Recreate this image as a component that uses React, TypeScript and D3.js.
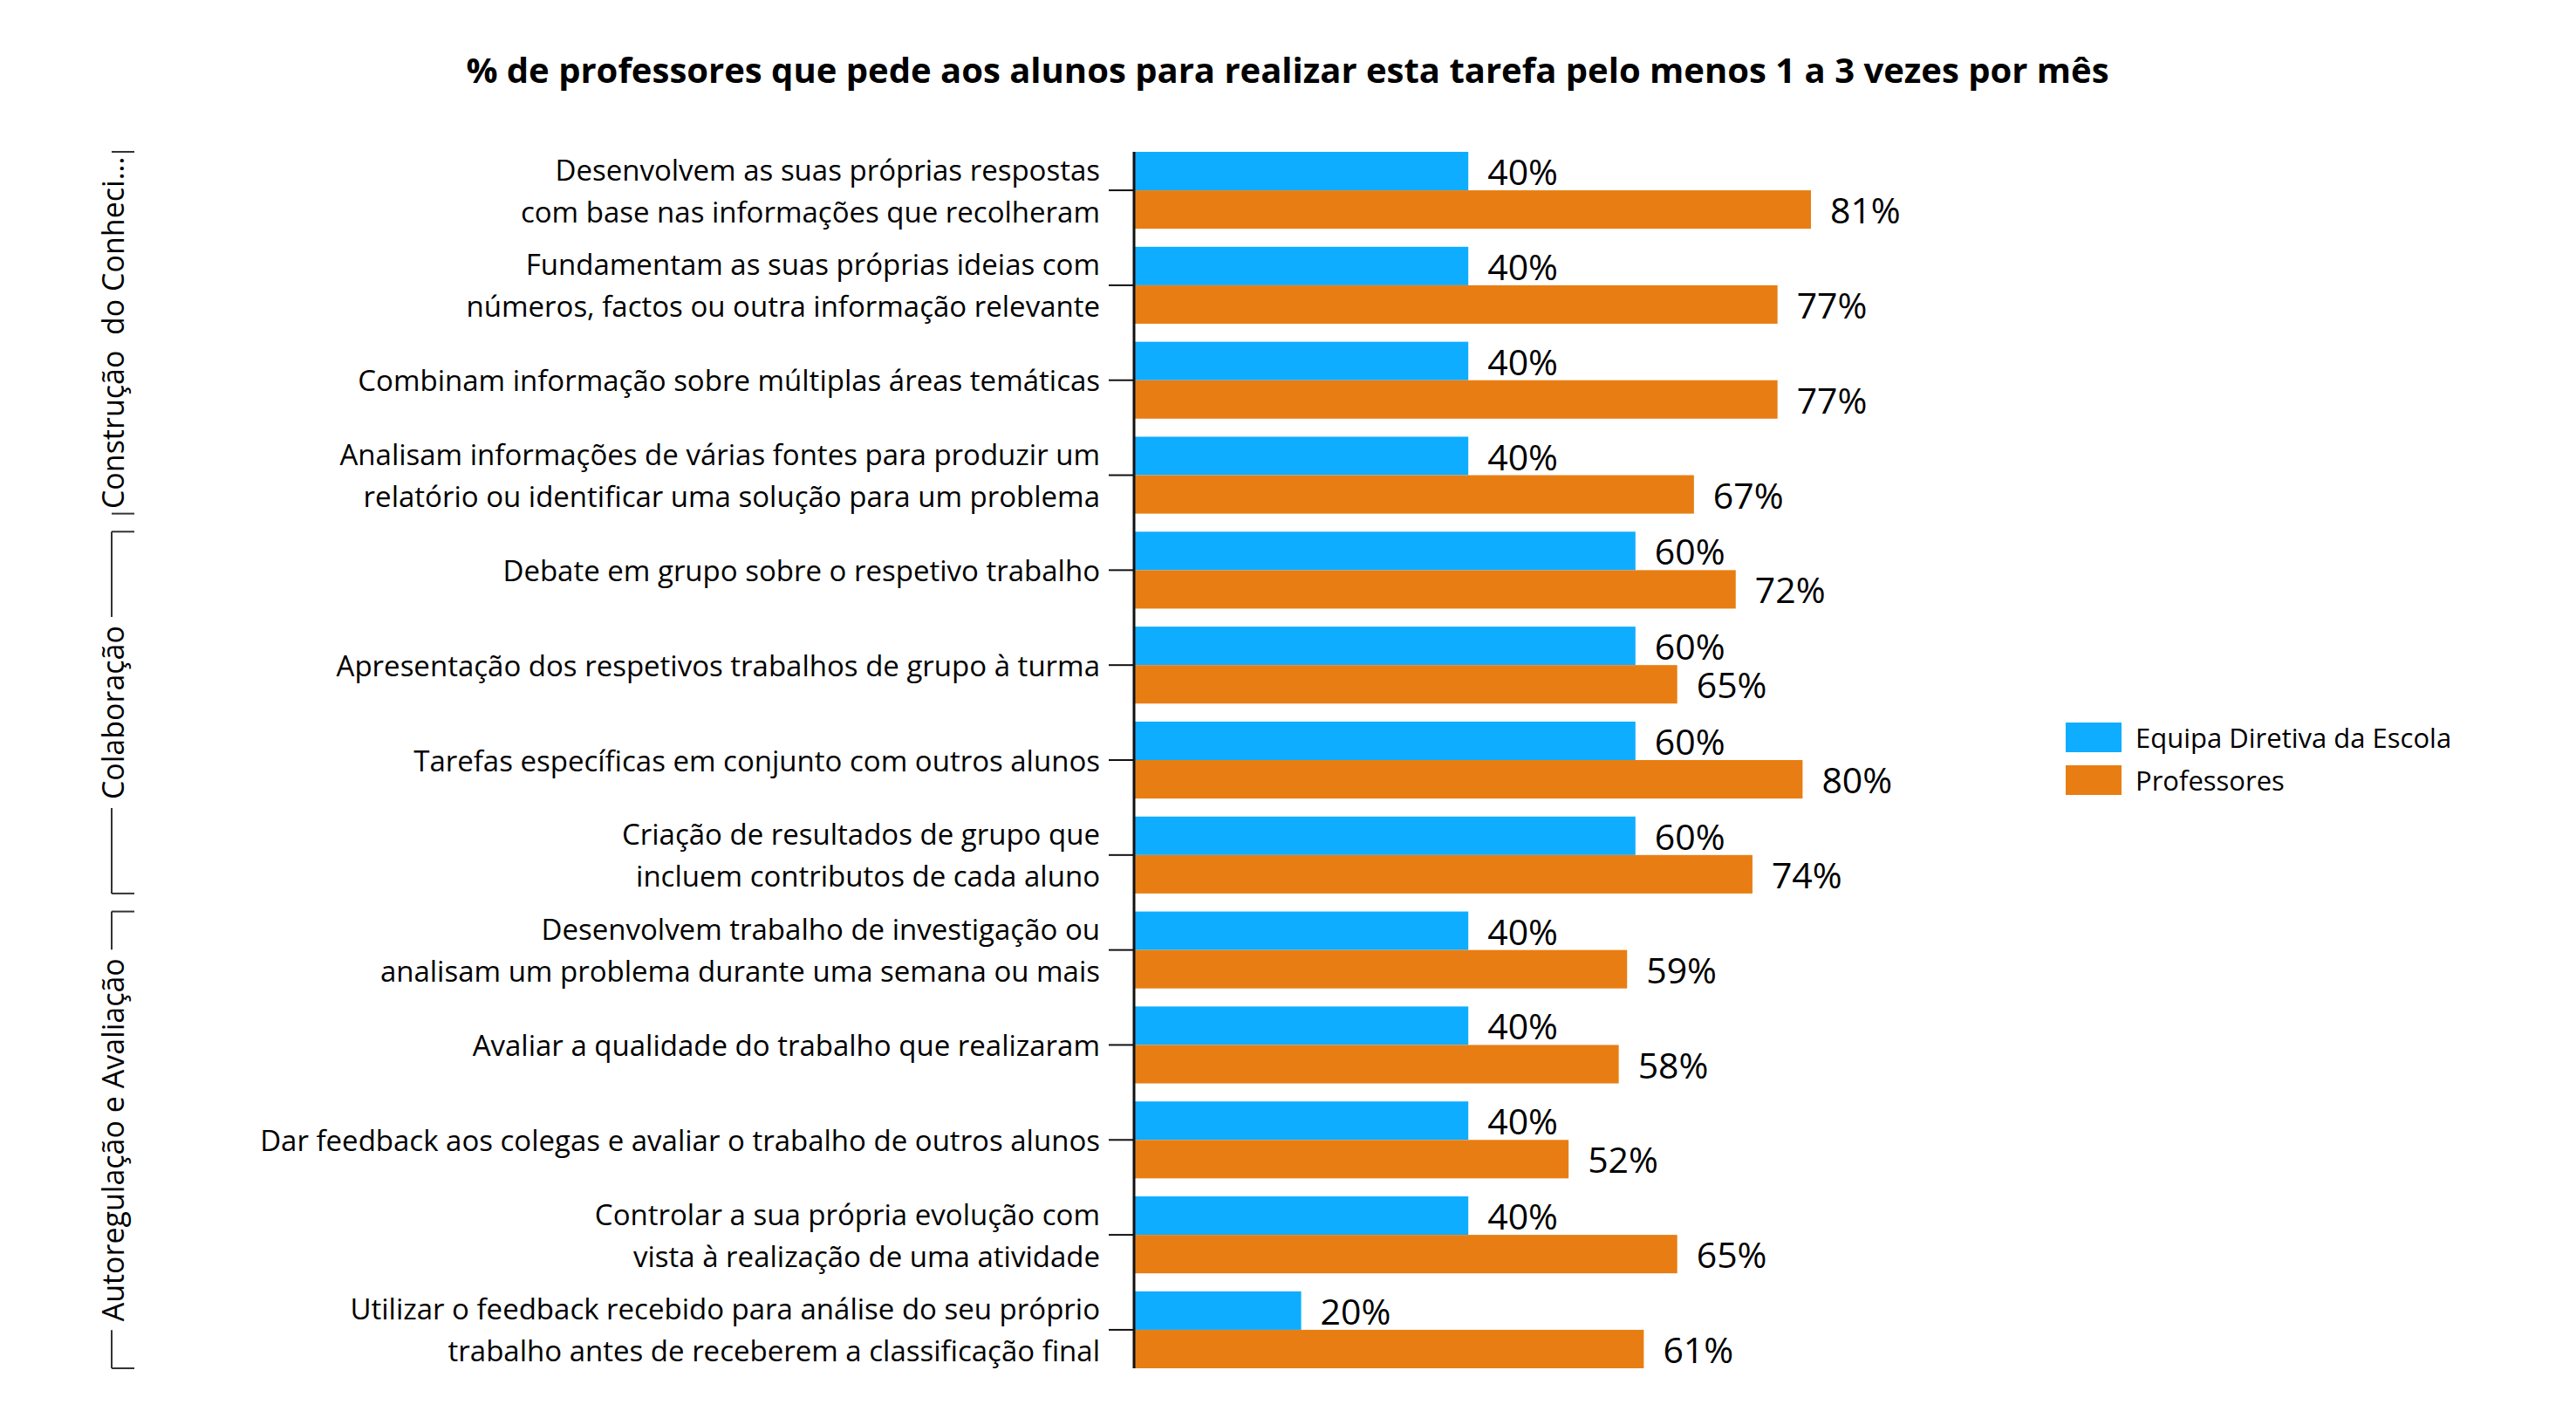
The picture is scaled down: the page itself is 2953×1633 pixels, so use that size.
import React, { useLayoutEffect, useRef, useState } from "react";
import * as d3 from "d3";

const categories: string[][] = [
  ["Desenvolvem as suas próprias respostas", "com base nas informações que recolheram"],
  ["Fundamentam as suas próprias ideias com", "números, factos ou outra informação relevante"],
  ["Combinam informação sobre múltiplas áreas temáticas"],
  ["Analisam informações de várias fontes para produzir um", "relatório ou identificar uma solução para um problema"],
  ["Debate em grupo sobre o respetivo trabalho"],
  ["Apresentação dos respetivos trabalhos de grupo à turma"],
  ["Tarefas específicas em conjunto com outros alunos"],
  ["Criação de resultados de grupo que", "incluem contributos de cada aluno"],
  ["Desenvolvem trabalho de investigação ou", "analisam um problema durante uma semana ou mais"],
  ["Avaliar a qualidade do trabalho que realizaram"],
  ["Dar feedback aos colegas e avaliar o trabalho de outros alunos"],
  ["Controlar a sua própria evolução com", "vista à realização de uma atividade"],
  ["Utilizar o feedback recebido para análise do seu próprio", "trabalho antes de receberem a classificação final"],
];

const equipaValues = [40, 40, 40, 40, 60, 60, 60, 60, 40, 40, 40, 40, 20];
const professoresValues = [81, 77, 77, 67, 72, 65, 80, 74, 59, 58, 52, 65, 61];

const seriesNames = ["Equipa Diretiva da Escola", "Professores"];
const seriesColors = ["#0FADFF", "#E87E13"];

const groupLabels = ["Construção  do Conheci...", "Colaboração", "Autoregulação e Avaliação"];
const groupStart = [0, 4, 8];
const groupEnd = [3, 7, 12];

const title = "% de professores que pede aos alunos para realizar esta tarefa pelo menos 1 a 3 vezes por mês";

const W = 2953;
const H = 1633;
const FONT = "'Open Sans', 'Noto Sans', sans-serif";

export default function App() {
  const x = d3.scaleLinear().domain([0, 100]).range([1300, 2258]);
  const idx = categories.map((_, i) => i);
  const y = d3.scaleBand<number>().domain(idx).range([174, 1568]).paddingInner(0.19).paddingOuter(0);
  const ys = d3.scaleBand<number>().domain([0, 1]).range([0, y.bandwidth()]).padding(0);
  const series = [equipaValues, professoresValues];

  const textRefs = useRef<(SVGTextElement | null)[]>([]);
  const [lens, setLens] = useState<number[]>([0, 0, 0]);
  useLayoutEffect(() => {
    setLens(textRefs.current.map((t) => (t ? t.getComputedTextLength() : 0)));
  }, []);

  const bx = 128;
  return (
    <>
      <style>{`body{margin:0}`}</style>
      <svg width={W} height={H} style={{ display: "block", background: "#fff" }} fontFamily={FONT}>
        <text x={1476} y={95} textAnchor="middle" fontSize={40} fontWeight={700} fill="#000">
          {title}
        </text>

        {idx.map((i) => {
          const y0 = y(i)!;
          return (
            <g key={i}>
              {series.map((vals, s) => {
                const yy = y0 + ys(s)!;
                return (
                  <g key={s}>
                    <rect x={x(0)} y={yy} width={x(vals[i]) - x(0)} height={ys.bandwidth()} fill={seriesColors[s]} />
                    <text
                      x={x(vals[i]) + 22}
                      y={yy + ys.bandwidth() / 2}
                      dominantBaseline="central"
                      fontSize={41}
                      fill="#000"
                    >
                      {vals[i] + "%"}
                    </text>
                  </g>
                );
              })}
            </g>
          );
        })}

        {/* axis */}
        <line x1={x(0)} x2={x(0)} y1={y(0)!} y2={y(categories.length - 1)! + y.bandwidth()} stroke="#111" strokeWidth={3} />
        {idx.map((i) => {
          const c = y(i)! + y.bandwidth() / 2;
          const lines = categories[i];
          return (
            <g key={"t" + i}>
              <line x1={x(0) - 29} x2={x(0)} y1={c} y2={c} stroke="#111" strokeWidth={2} />
              <text textAnchor="end" fontSize={33} fill="#000">
                {lines.map((l, k) => (
                  <tspan key={k} x={x(0) - 39} y={c + (k - (lines.length - 1) / 2) * 48} dominantBaseline="central">
                    {l}
                  </tspan>
                ))}
              </text>
            </g>
          );
        })}

        {/* group brackets */}
        {groupLabels.map((g, k) => {
          const top = y(groupStart[k])!;
          const bot = y(groupEnd[k])! + y.bandwidth();
          const mid = (top + bot) / 2;
          const half = lens[k] / 2 + 10;
          const segs: [number, number][] = [];
          if (mid - half > top) segs.push([top, mid - half]);
          if (mid + half < bot) segs.push([mid + half, bot]);
          return (
            <g key={"g" + k} stroke="#333" strokeWidth={2}>
              <line x1={bx} x2={bx + 26} y1={top} y2={top} />
              <line x1={bx} x2={bx + 26} y1={bot} y2={bot} />
              {segs.map((s, j) => (
                <line key={j} x1={bx} x2={bx} y1={s[0]} y2={s[1]} />
              ))}
              <text
                ref={(el) => {
                  textRefs.current[k] = el;
                }}
                transform={`translate(${142},${mid}) rotate(-90)`}
                textAnchor="middle"
                fontSize={34}
                fill="#000"
                stroke="none"
                style={{ whiteSpace: "pre" }}
              >
                {g}
              </text>
            </g>
          );
        })}

        {/* legend */}
        {seriesNames.map((n, s) => (
          <g key={"l" + s}>
            <rect x={2368} y={828 + s * 49} width={64} height={34} fill={seriesColors[s]} />
            <text x={2448} y={845 + s * 49} dominantBaseline="central" fontSize={31} fill="#000">
              {n}
            </text>
          </g>
        ))}
      </svg>
    </>
  );
}
